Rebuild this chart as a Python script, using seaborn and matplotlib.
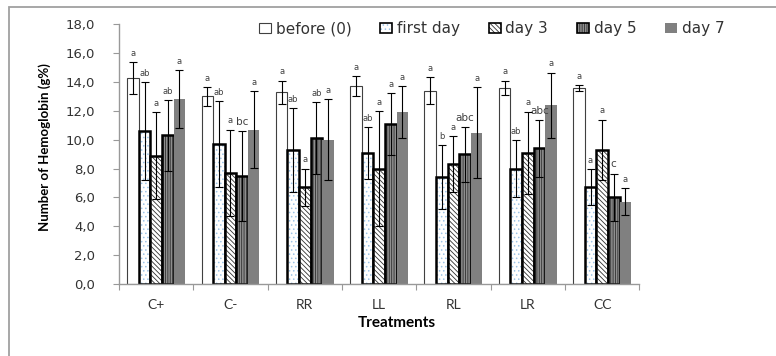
import matplotlib
matplotlib.use("Agg")
import matplotlib.pyplot as plt
from matplotlib.patches import Patch, Rectangle
from matplotlib.colors import to_rgba
from matplotlib.ticker import FixedLocator, FuncFormatter
import numpy as np
import pandas as pd
import seaborn as sns

categories = ["C+", "C-", "RR", "LL", "RL", "LR", "CC"]
series = ["before (0)", "first day", "day 3", "day 5", "day 7"]

before = [14.3, 13.0, 13.3, 13.7, 13.4, 13.6, 13.6]
first_day = [10.6, 9.7, 9.3, 9.1, 7.4, 8.0, 6.7]
day3 = [8.9, 7.7, 6.7, 8.0, 8.3, 9.1, 9.3]
day5 = [10.3, 7.5, 10.1, 11.1, 9.0, 9.4, 6.0]
day7 = [12.8, 10.7, 10.0, 11.9, 10.5, 12.4, 5.7]

before_err = [1.1, 0.65, 0.8, 0.7, 0.95, 0.5, 0.2]
first_day_err = [3.4, 3.0, 2.9, 1.8, 2.2, 2.0, 1.25]
day3_err = [3.0, 3.0, 1.3, 4.0, 1.95, 2.85, 2.1]
day5_err = [2.45, 3.1, 2.5, 2.15, 1.9, 1.95, 1.65]
day7_err = [2.0, 2.65, 2.8, 1.8, 3.15, 2.25, 0.92]

before_letters = ["a", "a", "a", "a", "a", "a", "a"]
first_day_letters = ["ab", "ab", "ab", "ab", "b", "ab", "a"]
day3_letters = ["a", "a", "a", "a", "a", "a", "a"]
day5_letters = ["ab", "bc", "ab", "a", "abc", "abc", "c"]
day7_letters = ["a", "a", "a", "a", "a", "a", "a"]

values = [before, first_day, day3, day5, day7]
errors = [before_err, first_day_err, day3_err, day5_err, day7_err]
letters = [before_letters, first_day_letters, day3_letters, day5_letters, day7_letters]

rows = []
for s, vals in zip(series, values):
    for c, v in zip(categories, vals):
        rows.append({"Treatment": c, "Series": s, "Hb": v})
df = pd.DataFrame(rows)

sns.set_theme(style="white")
plt.rcParams["font.family"] = ["DejaVu Sans"]
plt.rcParams["hatch.linewidth"] = 0.6

fig = plt.figure(figsize=(7.76, 3.56), dpi=100)
ax = fig.add_axes([119 / 776, 1 - 284 / 356, (639.3 - 119) / 776, (284 - 24.3) / 356])

sns.barplot(data=df, x="Treatment", y="Hb", hue="Series", order=categories,
            hue_order=series, errorbar=None, width=0.78, gap=0, ax=ax,
            legend=False, saturation=1)

styles = [
    dict(face="white", edge="#404040", lw=0.8, hatch=None, hcol=None),
    dict(face="white", edge="black", lw=1.8, hatch="....", hcol="#9dc3e6"),
    dict(face="white", edge="black", lw=1.8, hatch="\\\\\\\\\\\\\\", hcol="#303030"),
    dict(face="#8f8f8f", edge="black", lw=1.8, hatch="|||||||", hcol="#303030"),
    dict(face="#808080", edge="none", lw=0, hatch=None, hcol=None),
]

def style_patch(p, st):
    p.set_facecolor(st["face"])
    p.set_edgecolor(st["edge"])
    p.set_linewidth(st["lw"])
    if st["hatch"]:
        p.set_hatch(st["hatch"])
        p._hatch_color = to_rgba(st["hcol"])

bar_containers = list(ax.containers)
for i, cont in enumerate(bar_containers):
    st = styles[i]
    xs, ys = [], []
    for p in cont.patches:
        style_patch(p, st)
        xs.append(p.get_x() + p.get_width() / 2)
        ys.append(p.get_height())
    ax.errorbar(xs, ys, yerr=errors[i], fmt="none", ecolor="black",
                elinewidth=0.8, capsize=3, capthick=0.8, zorder=5)
    for x, y, e, t in zip(xs, ys, errors[i], letters[i]):
        big = len(t) > 2 or t in ("bc", "c")
        ax.annotate(t, (x, y + e), xytext=(0, 3), textcoords="offset points",
                    ha="center", va="bottom",
                    fontsize=7.5 if big else 6, color="#404040",
                    family=["DejaVu Sans"])

ax.set_ylim(0, 18)
ax.set_yticks(np.arange(0, 18.1, 2))
ax.yaxis.set_major_formatter(FuncFormatter(lambda v, p: f"{v:.1f}".replace(".", ",")))
ax.set_xlim(-0.5, len(categories) - 0.5)
ax.xaxis.set_minor_locator(FixedLocator(np.arange(-0.5, len(categories), 1.0)))

ax.tick_params(axis="y", which="major", left=True, length=4, width=0.8,
               color="#999999", pad=13, labelsize=9.5, labelcolor="#333333")
ax.tick_params(axis="x", which="major", bottom=False, length=0, pad=11,
               labelsize=10, labelcolor="#333333")
ax.tick_params(axis="x", which="minor", bottom=True, length=4, width=0.8,
               color="#999999")
for lab in ax.get_xticklabels():
    lab.set_family(["Lato", "DejaVu Sans"])

for side in ["top", "right"]:
    ax.spines[side].set_visible(False)
for side in ["left", "bottom"]:
    ax.spines[side].set_color("#999999")
    ax.spines[side].set_linewidth(1.0)

ax.set_ylabel("Number of Hemoglobin (g%)", fontsize=9.5, fontweight="bold",
              family=["Lato", "DejaVu Sans"], color="black")
ax.yaxis.set_label_coords(-0.131, 0.526)
ax.set_xlabel("Treatments", fontsize=11, fontweight="bold",
              family=["Lato", "DejaVu Sans"], color="black")
ax.xaxis.set_label_coords(0.534, -0.125)

handles = []
for st in styles:
    h = Patch(facecolor=st["face"], edgecolor=st["edge"] if st["edge"] != "none" else st["face"],
              linewidth=min(st["lw"], 1.2) if st["lw"] else 0, hatch=st["hatch"])
    if st["hatch"]:
        h._hatch_color = to_rgba(st["hcol"])
    handles.append(h)
fig.legend(handles, series, loc="center left",
           bbox_to_anchor=(259 / 776, 1 - 29 / 356), ncol=5, frameon=False,
           fontsize=11, handlelength=0.78, handleheight=0.6, handletextpad=0.3,
           columnspacing=1.9, borderpad=0, borderaxespad=0, labelcolor="#333333")

frame = Rectangle((9 / 776, -0.2), 1.2, 1.2 - 7 / 356, transform=fig.transFigure,
                  fill=False, edgecolor="#a0a0a0", linewidth=1.3, clip_on=False)
fig.add_artist(frame)

fig.savefig("out.png", dpi=100)
